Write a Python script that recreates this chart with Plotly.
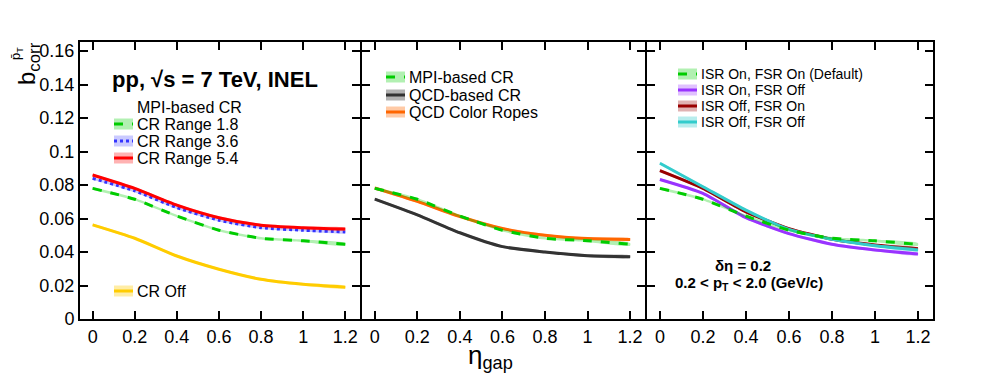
import plotly.graph_objects as go
from plotly.subplots import make_subplots

ETA_GAP = [0, 0.2, 0.4, 0.6, 0.8, 1.0, 1.2]

# left panel: MPI-based CR ranges
CR_RANGE_18 = [0.0780, 0.0715, 0.0615, 0.0530, 0.0482, 0.0467, 0.0446]
CR_RANGE_36 = [0.0840, 0.0765, 0.0665, 0.0590, 0.0545, 0.0530, 0.0520]
CR_RANGE_54 = [0.0860, 0.0780, 0.0680, 0.0605, 0.0560, 0.0545, 0.0537]
CR_OFF = [0.0562, 0.0482, 0.0376, 0.0297, 0.0237, 0.0207, 0.0190]
# middle panel
QCD_CR = [0.0716, 0.0622, 0.0515, 0.0432, 0.0400, 0.0378, 0.0372]
COLOR_ROPES = [0.0782, 0.0702, 0.0612, 0.0540, 0.0500, 0.0480, 0.0475]
# right panel
ISR_ON_FSR_OFF = [0.0833, 0.0750, 0.0605, 0.0510, 0.0446, 0.0412, 0.0388]
ISR_OFF_FSR_ON = [0.0886, 0.0780, 0.0640, 0.0540, 0.0476, 0.0442, 0.0420]
ISR_OFF_FSR_OFF = [0.0930, 0.0790, 0.0650, 0.0535, 0.0476, 0.0438, 0.0412]
BAND_HALF = 0.0008

X_TICKS = [0, 0.2, 0.4, 0.6, 0.8, 1.0, 1.2]
X_LABELS = ["0", "0.2", "0.4", "0.6", "0.8", "1", "1.2"]
Y_TICKS = [0, 0.02, 0.04, 0.06, 0.08, 0.1, 0.12, 0.14, 0.16]
Y_LABELS = ["0", "0.02", "0.04", "0.06", "0.08", "0.1", "0.12", "0.14", "0.16"]

FONT = "Liberation Sans, Arial, sans-serif"

# frame geometry in window pixels; the page body adds an 8px margin
OFF = 8
L, R, T, B = 80, 933, 42, 319
W, H = 997 - OFF, 387 - OFF


def px(x):
    return (x - L) / (R - L)


def py(y):
    return (B - y) / (B - T)


STYLES = {
    "green": ("#00cc00", "rgba(0,204,0,0.3)", "dash"),
    "blue": ("#3333ff", "rgba(80,80,255,0.3)", "dot"),
    "red": ("#ff0000", "rgba(255,0,0,0.3)", "solid"),
    "yellow": ("#ffcc00", "rgba(255,204,0,0.35)", "solid"),
    "black": ("#333333", "rgba(0,0,0,0.3)", "solid"),
    "orange": ("#ff6600", "rgba(255,102,0,0.35)", "solid"),
    "purple": ("#9933ff", "rgba(153,51,255,0.3)", "solid"),
    "darkred": ("#990000", "rgba(153,0,0,0.3)", "solid"),
    "cyan": ("#33cccc", "rgba(51,204,204,0.35)", "solid"),
}

fig = make_subplots(rows=1, cols=3, shared_yaxes=True, horizontal_spacing=0)


def add_series(values, style, col):
    line_c, band_c, dash = STYLES[style]
    hi = [v + BAND_HALF for v in values]
    lo = [v - BAND_HALF for v in values]
    fig.add_trace(go.Scatter(
        x=ETA_GAP + ETA_GAP[::-1], y=hi + lo[::-1], fill="toself",
        fillcolor=band_c, line=dict(width=0, shape="spline", smoothing=0.6),
        mode="lines", hoverinfo="skip", showlegend=False), row=1, col=col)
    fig.add_trace(go.Scatter(
        x=ETA_GAP, y=values, mode="lines", showlegend=False,
        line=dict(color=line_c, width=3, dash=dash, shape="spline", smoothing=0.6)),
        row=1, col=col)


add_series(CR_OFF, "yellow", 1)
add_series(CR_RANGE_18, "green", 1)
add_series(CR_RANGE_36, "blue", 1)
add_series(CR_RANGE_54, "red", 1)

add_series(QCD_CR, "black", 2)
add_series(COLOR_ROPES, "orange", 2)
add_series(CR_RANGE_18, "green", 2)

add_series(ISR_OFF_FSR_ON, "darkred", 3)
add_series(ISR_ON_FSR_OFF, "purple", 3)
add_series(ISR_OFF_FSR_OFF, "cyan", 3)
add_series(CR_RANGE_18, "green", 3)

shapes = []
annotations = []


def legend_entry(x0, y, style, text, size=16):
    line_c, band_c, dash = STYLES[style]
    shapes.append(dict(type="rect", xref="paper", yref="paper",
                       x0=px(x0), x1=px(x0 + 19), y0=py(y + 5.5), y1=py(y - 5.5),
                       fillcolor=band_c, line=dict(width=0)))
    shapes.append(dict(type="line", xref="paper", yref="paper",
                       x0=px(x0), x1=px(x0 + 19), y0=py(y), y1=py(y),
                       line=dict(color=line_c, width=3, dash=dash)))
    annotations.append(dict(text=text, xref="paper", yref="paper", x=px(x0 + 22), y=py(y),
                            xanchor="left", yanchor="middle", showarrow=False,
                            borderpad=0,
                            font=dict(family=FONT, size=size, color="black")))


def label(text, x, y, size, xanchor="left", angle=0):
    annotations.append(dict(text=text, xref="paper", yref="paper", x=px(x), y=py(y),
                            xanchor=xanchor, yanchor="middle", showarrow=False,
                            textangle=angle, borderpad=0,
                            font=dict(family=FONT, size=size, color="black")))


label("<b>pp, √s = 7 TeV, INEL</b>", 111, 79, 22)
label("MPI-based CR", 136, 107, 16)
legend_entry(114, 124, "green", "CR Range 1.8")
legend_entry(114, 141, "blue", "CR Range 3.6")
legend_entry(114, 158, "red", "CR Range 5.4")
legend_entry(114, 291, "yellow", "CR Off")

legend_entry(386, 77, "green", "MPI-based CR")
legend_entry(386, 95, "black", "QCD-based CR")
legend_entry(386, 112, "orange", "QCD Color Ropes")

legend_entry(678, 74, "green", "ISR On, FSR On (Default)", 14)
legend_entry(678, 90, "purple", "ISR On, FSR Off", 14)
legend_entry(678, 106, "darkred", "ISR Off, FSR On", 14)
legend_entry(678, 122, "cyan", "ISR Off, FSR Off", 14)

label("<b>δη = 0.2</b>", 743, 265, 15, xanchor="center")
label("<b>0.2 < p<sub>T</sub> < 2.0 (GeV/c)</b>", 749, 283, 15, xanchor="center")

label("η<sub>gap</sub>", 490, 356, 26, xanchor="center")
label("b<sub>corr</sub>", 28, 64, 24, xanchor="center", angle=-90)
label("p̄<sub>T</sub>", 17, 54, 13, xanchor="center", angle=-90)

axis_common = dict(showline=True, linecolor="black", linewidth=2, mirror="ticks",
                   ticks="inside", ticklen=8, tickwidth=1.5, tickcolor="black",
                   showgrid=False, zeroline=False,
                   tickfont=dict(family=FONT, size=18, color="black"))

# the line of each panel sits just outside its domain, so shift the next
# domain by the line width to make the shared borders coincide
lw = 2 / (R - L)
domains = [[0, px(360)], [px(360) + lw, px(645)], [px(645) + lw, 1]]
for i in range(3):
    fig.update_xaxes(row=1, col=i + 1, range=[-0.06, 1.27], domain=domains[i],
                     tickvals=X_TICKS, ticktext=X_LABELS, **axis_common)
    fig.update_yaxes(row=1, col=i + 1, range=[0, 0.1654], tickvals=Y_TICKS,
                     ticktext=Y_LABELS, showticklabels=(i == 0), **axis_common)

fig.update_layout(
    width=W, height=H,
    margin=dict(l=L - OFF, r=997 - R, t=T - OFF, b=387 - B),
    plot_bgcolor="white", paper_bgcolor="white",
    shapes=shapes, annotations=annotations,
    showlegend=False,
)

fig.write_html("out.html")
